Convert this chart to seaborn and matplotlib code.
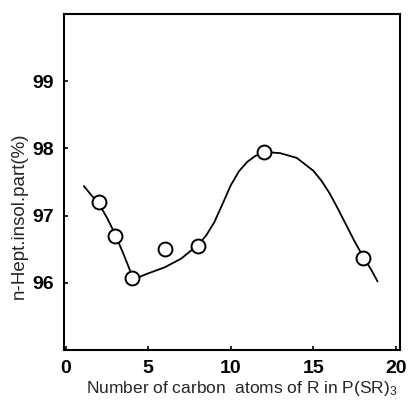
import matplotlib
matplotlib.use("Agg")
import matplotlib.pyplot as plt
import seaborn as sns
import pandas as pd

# measured points
carbon_atoms = [2, 3, 4, 6, 8, 12, 18]
insol_part = [97.2, 96.69, 96.07, 96.5, 96.55, 97.95, 96.37]

# hand-drawn trend curve
curve_x = [1.1, 1.5, 2.0, 2.5, 3.0, 3.5, 4.0, 4.3, 5.0, 6.0, 7.0, 8.0, 8.5, 9.0,
           9.5, 10.0, 10.5, 11.0, 11.5, 12.0, 12.5, 13.0, 14.0, 15.0, 15.5, 16.0,
           16.5, 17.0, 17.5, 18.0, 18.5, 18.9]
curve_y = [97.44, 97.32, 97.18, 96.97, 96.72, 96.43, 96.12, 96.07, 96.14, 96.23,
           96.36, 96.56, 96.7, 96.9, 97.17, 97.45, 97.66, 97.8, 97.89, 97.93,
           97.94, 97.93, 97.86, 97.67, 97.52, 97.33, 97.1, 96.86, 96.62, 96.4,
           96.2, 96.02]

x_ticks = [0, 5, 10, 15, 20]
y_ticks = [96, 97, 98, 99]

sns.set_theme(style="ticks")
plt.rcParams['font.family'] = ['Liberation Sans', 'DejaVu Sans']
plt.rcParams['mathtext.fontset'] = 'custom'
plt.rcParams['mathtext.rm'] = 'Liberation Sans'
plt.rcParams['mathtext.it'] = 'Liberation Sans'

fig = plt.figure(figsize=(4.08, 4.05), dpi=100)
ax = fig.add_axes([0.157, 0.136, 0.823, 0.829])

df_curve = pd.DataFrame({"x": curve_x, "y": curve_y})
df_pts = pd.DataFrame({"x": carbon_atoms, "y": insol_part})

sns.lineplot(data=df_curve, x="x", y="y", ax=ax, color="black", linewidth=1.3,
             sort=False, estimator=None)
sns.scatterplot(data=df_pts, x="x", y="y", ax=ax, marker="o", s=100,
                facecolor="white", edgecolor="black", linewidth=1.4, zorder=3)

ax.set_xlim(-0.1, 20.25)
ax.set_ylim(95, 100)
ax.set_xticks(x_ticks)
ax.set_yticks(y_ticks)
ax.tick_params(direction="in", length=3, width=1.2, colors="black",
               labelsize=14, pad=7)
for lab in ax.get_xticklabels() + ax.get_yticklabels():
    lab.set_fontweight("bold")
for s in ax.spines.values():
    s.set_linewidth(1.5)
    s.set_color("black")

ax.set_xlabel(r"Number of carbon  atoms of R in P(SR)$_3$", fontsize=12.5)
ax.xaxis.set_label_coords(0.53, -0.088)
ax.set_ylabel("n-Hept.insol.part(%)", fontsize=13.5)
ax.yaxis.set_label_coords(-0.107, 0.40)

fig.savefig("out.png", dpi=100)
